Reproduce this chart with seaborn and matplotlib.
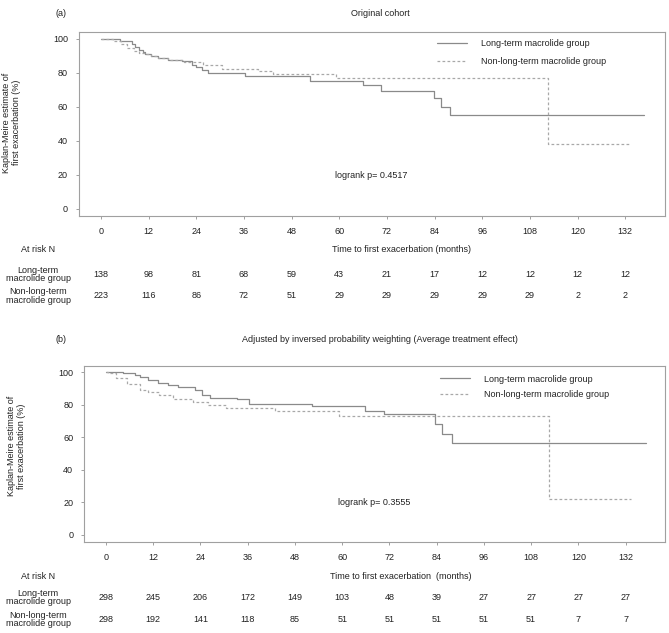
import numpy as np
import pandas as pd
import matplotlib
matplotlib.use("Agg")
import matplotlib.pyplot as plt
import matplotlib.transforms as mtransforms
import seaborn as sns

sns.set_theme(style="white")
plt.rcParams['font.family'] = ['Liberation Sans', 'DejaVu Sans']

# (a) original cohort - step points (months, %)
a_long_t = [0, 4.9, 7.8, 8.5, 9.5, 10.5, 11.2, 12.5, 14.5, 17, 20.3, 22.9, 24, 25.4, 27,
            36.3, 52.6, 66, 70.6, 83.8, 85.5, 87.8, 136.8]
a_long_s = [100, 98.8, 97, 95.5, 93.7, 92.3, 91.4, 90, 88.8, 87.8, 86.9, 84.9, 83.5, 82, 80,
            78, 75.5, 72.7, 69.4, 65.1, 59.8, 55.3, 55.3]
a_non_t = [0, 3, 5, 6.5, 8.3, 9.5, 11, 12.5, 14.5, 17, 21, 25.7, 30.4, 39.6, 43.4, 59.3, 112.5, 133.4]
a_non_s = [100, 99, 97, 94.5, 93, 92, 91, 90, 88.8, 87.8, 86.3, 84.5, 82.5, 81, 79.3, 76.8, 38.2, 38.2]

# (b) IPW adjusted
b_long_t = [0, 4.4, 7.4, 8.7, 10.8, 13.3, 15.8, 18.3, 22.6, 24.3, 26.5, 33.3, 36.4, 52.3, 65.9,
            70.7, 83.7, 85.4, 88, 137.2]
b_long_s = [100, 99.6, 98, 96.9, 94.9, 93.4, 91.8, 90.8, 88.7, 86.1, 84, 83.2, 80.6, 79.3, 76.3,
            74.1, 68.4, 62.2, 56.7, 56.7]
b_non_t = [0, 0.5, 2.5, 5.4, 8.6, 10.7, 13.5, 17, 22, 26, 30.4, 43, 59.1, 112.5, 133.3]
b_non_s = [100, 99.3, 96.3, 92.4, 88.7, 87.7, 85.8, 83.6, 81.6, 80, 78, 76.1, 72.8, 22, 22]

time_ticks = [0, 12, 24, 36, 48, 60, 72, 84, 96, 108, 120, 132]
a_risk_long = [138, 98, 81, 68, 59, 43, 21, 17, 12, 12, 12, 12]
a_risk_non = [223, 116, 86, 72, 51, 29, 29, 29, 29, 29, 2, 2]
b_risk_long = [298, 245, 206, 172, 149, 103, 48, 39, 27, 27, 27, 27]
b_risk_non = [298, 192, 141, 118, 85, 51, 51, 51, 51, 51, 7, 7]

W, H = 669, 633
fig = plt.figure(figsize=(W / 100, H / 100), dpi=100)
fs = 6.5
solid_col = "#8a8a8a"
dash_col = "#a8a8a8"
txt_col = "#222222"


def fy(px):
    return 1 - px / H


def fx(px):
    return px / W


def panel(rect, tag, title, title_y, lt, ls, nt, ns, p_text, risk_long, risk_non,
          ylab_x, ylab_y, leg_x, leg_y, leg_sp, xlab_y, row1_y, row2_y, xlab_text):
    ax = fig.add_axes(rect)
    df_l = pd.DataFrame({"t": lt, "s": ls})
    df_n = pd.DataFrame({"t": nt, "s": ns})
    sns.lineplot(data=df_l, x="t", y="s", ax=ax, drawstyle="steps-post", estimator=None,
                 sort=False, color=solid_col, linewidth=0.9, label="Long-term macrolide group")
    sns.lineplot(data=df_n, x="t", y="s", ax=ax, drawstyle="steps-post", estimator=None,
                 sort=False, color=dash_col, linewidth=0.9, linestyle=(0, (2.2, 1.8)),
                 label="Non-long-term macrolide group")
    ax.set_xlim(-5.5, 142)
    ax.set_ylim(-4, 104)
    ax.set_xticks(time_ticks)
    ax.set_yticks([0, 20, 40, 60, 80, 100])
    ax.set_xlabel("")
    ax.set_ylabel("")
    for sp in ax.spines.values():
        sp.set_color("#a0a0a0")
        sp.set_linewidth(0.8)
    ax.tick_params(axis="x", length=2.5, width=0.6, color="#909090", pad=5.5,
                   labelsize=fs, labelcolor=txt_col, bottom=True)
    ax.tick_params(axis="y", length=2.2, width=0.6, color="#909090", pad=5.8,
                   labelsize=fs, labelcolor=txt_col, left=True)
    ax.legend(loc="center left", bbox_to_anchor=(fx(leg_x), fy(leg_y)),
              bbox_transform=fig.transFigure, frameon=False, fontsize=fs,
              handlelength=3.3, handletextpad=1.6, labelspacing=leg_sp,
              borderpad=0, borderaxespad=0, labelcolor=txt_col)
    ax.text(59, 20, p_text, fontsize=fs, color=txt_col, ha="left", va="center")

    fig.text(fx(61), fy(title_y), tag, fontsize=fs, color=txt_col, ha="center", va="center")
    fig.text(fx(380), fy(title_y), title, fontsize=fs, color=txt_col, ha="center", va="center")
    fig.text(fx(ylab_x), fy(ylab_y), "Kaplan-Meire estimate of\nfirst exacerbation (%)",
             fontsize=fs, color=txt_col, rotation=90, ha="center", va="center", linespacing=1.2)

    fig.text(fx(38), fy(xlab_y), "At risk N", fontsize=fs, color=txt_col, ha="center", va="center")
    fig.text(fx(401), fy(xlab_y), xlab_text, fontsize=fs, color=txt_col, ha="center", va="center")
    fig.text(fx(38), fy(row1_y), "Long-term\nmacrolide group", fontsize=fs, color=txt_col,
             ha="center", va="center", linespacing=0.95)
    fig.text(fx(38), fy(row2_y), "Non-long-term\nmacrolide group", fontsize=fs, color=txt_col,
             ha="center", va="center", linespacing=0.95)
    tr = mtransforms.blended_transform_factory(ax.transData, fig.transFigure)
    for t, n1, n2 in zip(time_ticks, risk_long, risk_non):
        ax.text(t, fy(row1_y), str(n1), transform=tr, fontsize=fs, color=txt_col,
                ha="center", va="center", clip_on=False)
        ax.text(t, fy(row2_y), str(n2), transform=tr, fontsize=fs, color=txt_col,
                ha="center", va="center", clip_on=False)
    return ax


panel([fx(79), fy(215.8), (665 - 79) / W, (215.8 - 32.2) / H], "(a)", "Original cohort", 13,
      a_long_t, a_long_s, a_non_t, a_non_s, "logrank p= 0.4517", a_risk_long, a_risk_non,
      11.3, 122.5, 437, 52.5, 0.94, 250, 274.5, 296,
      "Time to first exacerbation (months)")

panel([fx(84.3), fy(541.5), (665 - 84.3) / W, (541.5 - 365.5) / H], "(b)",
      "Adjusted by inversed probability weighting (Average treatment effect)", 339.5,
      b_long_t, b_long_s, b_non_t, b_non_s, "logrank p= 0.3555", b_risk_long, b_risk_non,
      16.7, 446, 440, 386.7, 0.69, 576.7, 597.5, 619.5,
      "Time to first exacerbation  (months)")

fig.savefig("out.png", dpi=100)
